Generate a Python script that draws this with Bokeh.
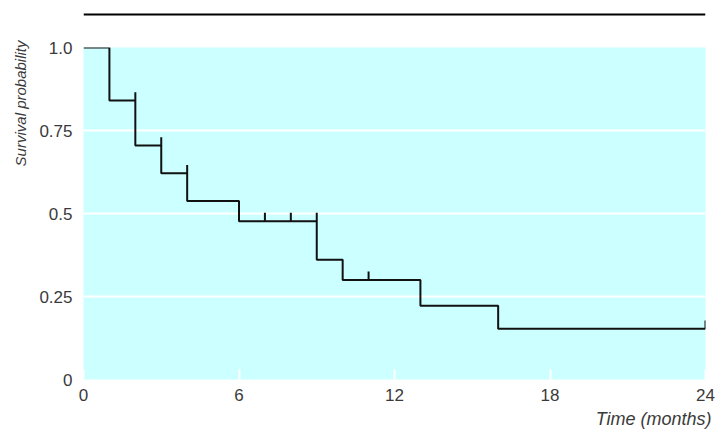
from bokeh.plotting import figure
from bokeh.models import Range1d, FixedTicker, Title, Span
from bokeh.layouts import column
from bokeh.embed import file_html
from bokeh.resources import INLINE

# ---- data ----
times = [0, 1, 2, 3, 4, 6, 9, 10, 13, 16, 24]
survival = [1.0, 0.84, 0.705, 0.621, 0.5375, 0.477, 0.361, 0.300, 0.222, 0.153, 0.153]
censor_times = [2, 3, 4, 7, 8, 9, 11, 24]
censor_survival = [0.84, 0.705, 0.621, 0.477, 0.477, 0.477, 0.300, 0.153]
x_ticks = [0, 6, 12, 18, 24]
y_ticks = [0, 0.25, 0.5, 0.75, 1.0]
y_tick_labels = ["0", "0.25", "0.5", "0.75", "1.0"]

# ---- style ----
FONT = "Liberation Sans"
TXT = "#3a3a3a"
CENSOR_H = 0.025

# decorative rule above the chart
rule = figure(width=715, height=20, x_range=Range1d(0, 1), y_range=Range1d(0, 20),
              toolbar_location=None, output_backend="svg",
              x_axis_location=None, y_axis_location=None,
              min_border_left=12, min_border_right=2, min_border_top=0, min_border_bottom=0,
              outline_line_color=None, background_fill_color="white", border_fill_color="white")
rule.grid.visible = False
rule.add_layout(Span(location=6, dimension="width", line_color="black", line_width=2))

p = figure(frame_width=622, frame_height=332, x_range=Range1d(0, 24), y_range=Range1d(0, 1),
           toolbar_location=None, output_backend="svg",
           min_border_left=83, min_border_right=10, min_border_top=27, min_border_bottom=0,
           background_fill_color="#ccffff", border_fill_color="white", outline_line_color=None)

p.xgrid.visible = False
p.ygrid.ticker = FixedTicker(ticks=y_ticks)
p.ygrid.grid_line_color = "white"
p.ygrid.grid_line_width = 2

xa = p.xaxis[0]
xa.ticker = FixedTicker(ticks=x_ticks)
xa.axis_line_color = None
xa.major_tick_in = 10
xa.major_tick_out = 0
xa.major_tick_line_color = "white"
xa.major_tick_line_width = 2
xa.minor_tick_line_color = None
xa.major_label_standoff = 9
xa.major_label_text_font = FONT
xa.major_label_text_font_size = "17px"
xa.major_label_text_color = TXT

ya = p.yaxis[0]
ya.ticker = FixedTicker(ticks=y_ticks)
ya.major_label_overrides = {t: l for t, l in zip(y_ticks, y_tick_labels)}
ya.axis_line_color = None
ya.major_tick_line_color = None
ya.minor_tick_line_color = None
ya.major_label_standoff = 5
ya.major_label_text_font = FONT
ya.major_label_text_font_size = "17px"
ya.major_label_text_color = TXT

p.add_layout(Title(text="Survival probability", align="right", text_font=FONT,
                   text_font_style="italic", text_font_size="15px", text_color=TXT,
                   standoff=16, offset=-7), "left")
p.add_layout(Title(text="Time (months)", align="right", text_font=FONT,
                   text_font_style="italic", text_font_size="18px", text_color=TXT,
                   standoff=6, offset=-6), "below")

p.step(times, survival, mode="after", line_color="#111111", line_width=2)
p.segment(x0=censor_times, y0=censor_survival, x1=censor_times,
          y1=[s + CENSOR_H for s in censor_survival], line_color="#111111", line_width=2)

layout = column(rule, p)
open("out.html", "w").write(file_html(layout, INLINE))
